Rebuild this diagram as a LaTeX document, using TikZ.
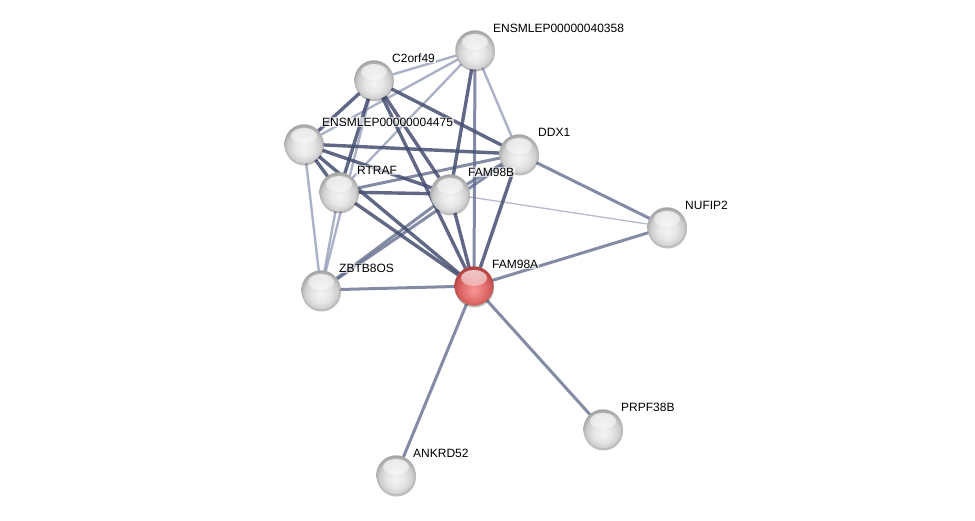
\documentclass[tikz,border=0pt]{standalone}
\usepackage{fontspec}
\setmainfont{Liberation Sans}
\usetikzlibrary{shadows,fadings}
\pgfdeclarelayer{bg}
\pgfsetlayers{bg,main}
\definecolor{g0}{RGB}{244,244,244}
\definecolor{g1}{RGB}{230,230,230}
\definecolor{g2}{RGB}{206,206,206}
\definecolor{g3}{RGB}{165,165,165}
\definecolor{g4}{RGB}{130,130,130}
\definecolor{r0}{RGB}{248,150,150}
\definecolor{r1}{RGB}{232,118,118}
\definecolor{r2}{RGB}{212,92,92}
\definecolor{r3}{RGB}{178,62,62}
\definecolor{r4}{RGB}{145,48,48}
\pgfdeclareradialshading{sphgray}{\pgfpoint{0bp}{-6bp}}{color(0bp)=(g0); color(12bp)=(g1); color(21bp)=(g2); color(27bp)=(g3); color(32bp)=(g4); color(50bp)=(g4)}
\pgfdeclareradialshading{sphred}{\pgfpoint{0bp}{-6bp}}{color(0bp)=(r0); color(12bp)=(r1); color(21bp)=(r2); color(27bp)=(r3); color(32bp)=(r4); color(50bp)=(r4)}
\tikzfading[name=hlfade, top color=transparent!25, bottom color=transparent!100]
\definecolor{edk}{RGB}{68,78,112}
\definecolor{emd}{RGB}{96,106,140}
\definecolor{elt}{RGB}{148,156,183}
\definecolor{eth}{RGB}{165,170,192}
\begin{document}
\begin{tikzpicture}[x=1pt,y=-1pt,
  sphere/.style={circle, minimum size=39pt, inner sep=0pt, shading=sphgray, draw=black!30, line width=0.3pt,
    drop shadow={shadow xshift=0.5pt, shadow yshift=-2pt, opacity=0.25, fill=black},
    path picture={\fill[white, path fading=hlfade] ([yshift=8pt]path picture bounding box.center) ellipse (13pt and 8pt);}},
  redsphere/.style={sphere, shading=sphred, draw=r4!70},
  lbl/.style={anchor=west, inner sep=1pt, fill=white, fill opacity=0.65, text opacity=1, font=\fontsize{12}{14}\selectfont},
  ed/.style={draw=edk, line width=3.4pt, opacity=0.85},
  em/.style={draw=emd, line width=3pt, opacity=0.78},
  el/.style={draw=elt, line width=2.4pt, opacity=0.78},
  et/.style={draw=eth, line width=1.3pt, opacity=0.8}]
\useasboundingbox (0,0) rectangle (975,521);
% nodes
\node[sphere] (A40) at (475,50) {};
\node[sphere] (C2) at (374,80) {};
\node[sphere] (A4475) at (304,144) {};
\node[sphere] (DDX1) at (519,154) {};
\node[sphere] (RTRAF) at (339,192) {};
\node[sphere] (F98B) at (450,194) {};
\node[sphere] (NUFIP2) at (667,227) {};
\node[sphere] (ZBTB) at (321,290) {};
\node[redsphere] (F98A) at (474,286) {};
\node[sphere] (PRPF) at (603,429) {};
\node[sphere] (ANK) at (396,475) {};
% labels
\node[lbl] (lA40) at ([shift={(17,-22)}]A40.center) {ENSMLEP00000040358};
\node[lbl] (lC2) at ([shift={(17,-22)}]C2.center) {C2orf49};
\node[lbl] (lA4475) at ([shift={(17,-22)}]A4475.center) {ENSMLEP00000004475};
\node[lbl] (lDDX1) at ([shift={(18,-22)}]DDX1.center) {DDX1};
\node[lbl] (lRTRAF) at ([shift={(17,-22)}]RTRAF.center) {RTRAF};
\node[lbl] (lF98B) at ([shift={(17,-22)}]F98B.center) {FAM98B};
\node[lbl] (lNUFIP2) at ([shift={(17,-22)}]NUFIP2.center) {NUFIP2};
\node[lbl] (lZBTB) at ([shift={(17,-22)}]ZBTB.center) {ZBTB8OS};
\node[lbl] (lF98A) at ([shift={(17,-22)}]F98A.center) {FAM98A};
\node[lbl] (lPRPF) at ([shift={(17,-22)}]PRPF.center) {PRPF38B};
\node[lbl] (lANK) at ([shift={(16,-22)}]ANK.center) {ANKRD52};
% edges
\begin{pgfonlayer}{bg}
\draw[et] (F98B.center) -- (NUFIP2.center);
\draw[el] (A40.center) -- (C2.center);
\draw[el] (A40.center) -- (A4475.center);
\draw[el] (A40.center) -- (RTRAF.center);
\draw[el] (A40.center) -- (DDX1.center);
\draw[el] (A4475.center) -- (ZBTB.center);
\draw[el] (RTRAF.center) -- (ZBTB.center);
\draw[el] (C2.center) -- (ZBTB.center);
\draw[em] (F98B.center) -- (ZBTB.center);
\draw[em] (DDX1.center) -- (ZBTB.center);
\draw[em] (F98B.center) -- (DDX1.center);
\draw[em] (DDX1.center) -- (NUFIP2.center);
\draw[em] (NUFIP2.center) -- (F98A.center);
\draw[em] (ZBTB.center) -- (F98A.center);
\draw[em] (F98A.center) -- (PRPF.center);
\draw[em] (F98A.center) -- (ANK.center);
\draw[em] (A40.center) -- (F98A.center);
\draw[em] (RTRAF.center) -- (DDX1.center);
\draw[ed] (A40.center) -- (F98B.center);
\draw[ed] (C2.center) -- (A4475.center);
\draw[ed] (C2.center) -- (DDX1.center);
\draw[ed] (C2.center) -- (RTRAF.center);
\draw[ed] (C2.center) -- (F98B.center);
\draw[ed] (C2.center) -- (F98A.center);
\draw[ed] (A4475.center) -- (DDX1.center);
\draw[ed] (A4475.center) -- (F98B.center);
\draw[ed] (A4475.center) -- (RTRAF.center);
\draw[ed] (A4475.center) -- (F98A.center);
\draw[ed] (RTRAF.center) -- (F98B.center);
\draw[ed] (RTRAF.center) -- (F98A.center);
\draw[ed] (F98B.center) -- (F98A.center);
\draw[ed] (DDX1.center) -- (F98A.center);
\end{pgfonlayer}
\end{tikzpicture}
\end{document}
